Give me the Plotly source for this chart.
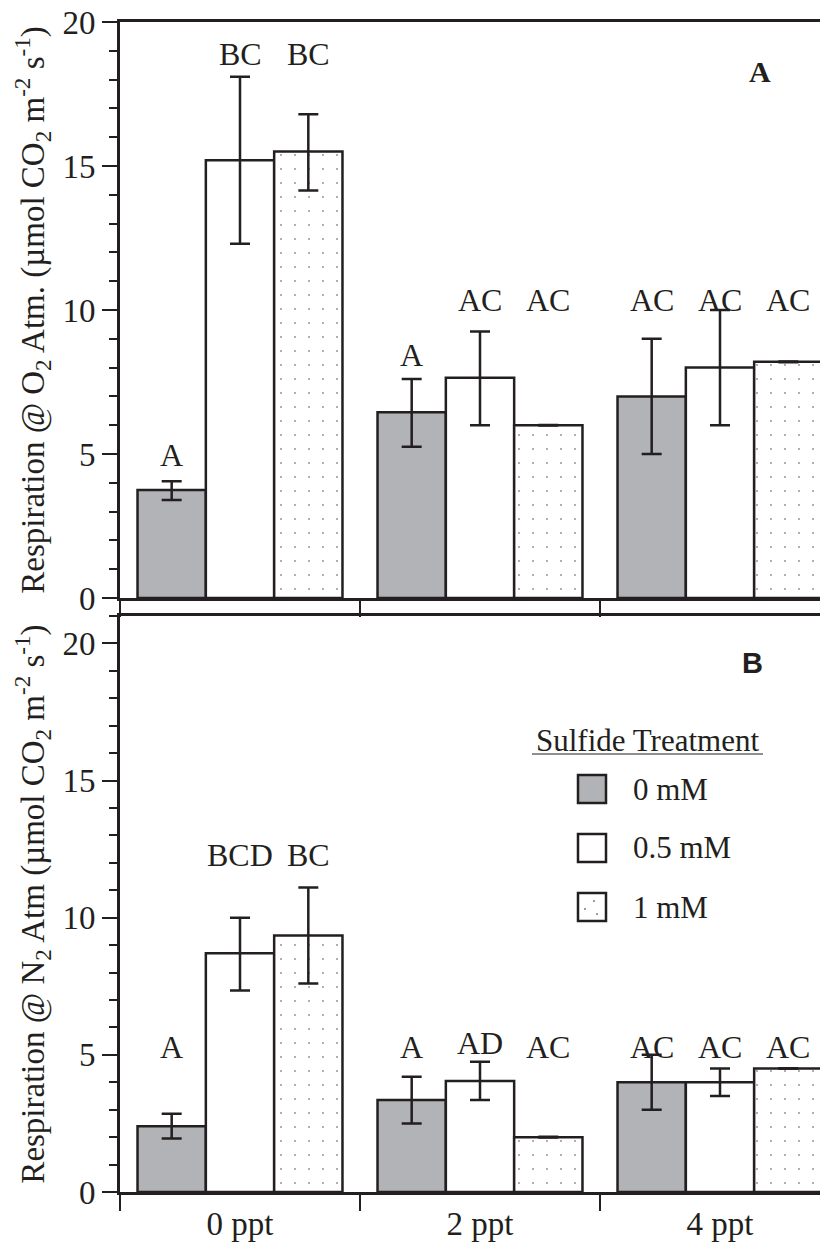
import plotly.graph_objects as go

categories = ["0 ppt", "2 ppt", "4 ppt"]
treatments = ["0 mM", "0.5 mM", "1 mM"]

# Panel A: respiration under O2 atmosphere
o2_mean = [[3.75, 6.45, 7.0], [15.2, 7.65, 8.0], [15.5, 6.0, 8.2]]
o2_err_plus = [[0.3, 1.15, 2.0], [2.9, 1.6, 2.0], [1.3, 0.01, 0.01]]
o2_err_minus = [[0.35, 1.2, 2.0], [2.9, 1.65, 2.0], [1.35, 0.01, 0.01]]
o2_letters = [["A", "A", "AC"], ["BC", "AC", "AC"], ["BC", "AC", "AC"]]
o2_letter_y = [[4.97, 8.45, 10.35], [18.9, 10.35, 10.35], [18.9, 10.35, 10.35]]

# Panel B: respiration under N2 atmosphere
n2_mean = [[2.4, 3.35, 4.0], [8.7, 4.05, 4.0], [9.35, 2.0, 4.5]]
n2_err_plus = [[0.45, 0.85, 1.0], [1.3, 0.7, 0.5], [1.75, 0.01, 0.01]]
n2_err_minus = [[0.45, 0.85, 1.0], [1.35, 0.7, 0.5], [1.75, 0.01, 0.01]]
n2_letters = [["A", "A", "AC"], ["BCD", "AD", "AC"], ["BC", "AC", "AC"]]
n2_letter_y = [[5.3, 5.3, 5.3], [12.3, 5.45, 5.3], [12.3, 5.3, 5.3]]

INK = "#231f20"
GRAY = "#b2b3b6"
SERIF = "Liberation Serif, Times New Roman, serif"
SANS = "Liberation Sans, Arial, sans-serif"

# the page body has an 8px margin, so the figure is offset by 8px
OFF = 8
W, H = 828 - OFF, 1247 - OFF
ML, MT = 120 - OFF, 22 - OFF
PW, PH = 706, 1170
MR = W - ML - PW
MB = H - MT - PH
BAR_PX = 68.3

fills = [GRAY, "white", "white"]
patterns = [None, None, dict(shape=".", size=14, solidity=0.015, fgcolor=INK, bgcolor="white")]

fig = go.Figure()
panels = [
    (o2_mean, o2_err_plus, o2_err_minus, "x", "y"),
    (n2_mean, n2_err_plus, n2_err_minus, "x2", "y2"),
]
for means, ep, em, xa, ya in panels:
    for j in range(3):
        marker = dict(color=fills[j], line=dict(color=INK, width=2.5))
        if patterns[j]:
            marker["pattern"] = patterns[j]
        fig.add_trace(go.Bar(
            x=categories, y=means[j], name=treatments[j], xaxis=xa, yaxis=ya,
            marker=marker, showlegend=False,
            error_y=dict(type="data", symmetric=False, array=ep[j], arrayminus=em[j],
                         color=INK, thickness=2.5, width=10),
        ))

annotations = []
for letters, ly, xa, ya in [(o2_letters, o2_letter_y, "x", "y"), (n2_letters, n2_letter_y, "x2", "y2")]:
    for j in range(3):
        for i, cat in enumerate(categories):
            annotations.append(dict(
                x=cat, y=ly[j][i], xref=xa, yref=ya, text=letters[j][i],
                showarrow=False, xshift=(j - 1) * BAR_PX, xanchor="center", yanchor="middle",
                font=dict(family=SERIF, size=32, color=INK)))

def px_x(p):
    # page pixel -> paper fraction
    return (p - OFF - ML) / PW

def px_y(p):
    return (H - MB - (p - OFF)) / PH

# panel letters
annotations.append(dict(x=px_x(760), y=px_y(72), xref="paper", yref="paper", text="<b>A</b>",
                        showarrow=False, xanchor="center", yanchor="middle",
                        font=dict(family=SERIF, size=30, color=INK)))
annotations.append(dict(x=px_x(752), y=px_y(663), xref="paper", yref="paper", text="<b>B</b>",
                        showarrow=False, xanchor="center", yanchor="middle",
                        font=dict(family=SANS, size=29, color=INK)))

# custom legend
annotations.append(dict(x=px_x(647), y=px_y(740), xref="paper", yref="paper",
                        text="Sulfide Treatment", showarrow=False,
                        xanchor="center", yanchor="middle",
                        font=dict(family=SERIF, size=31, color=INK)))
shapes = [dict(type="line", xref="paper", yref="paper", x0=px_x(532), x1=px_x(763),
               y0=px_y(754), y1=px_y(754), line=dict(color=INK, width=1.2))]
leg_y = [789, 848, 907]
for j in range(3):
    cy = leg_y[j]
    shapes.append(dict(type="rect", xref="paper", yref="paper",
                       x0=px_x(578), x1=px_x(606), y0=px_y(cy + 14), y1=px_y(cy - 14),
                       fillcolor=fills[j], line=dict(color=INK, width=2.5)))
    annotations.append(dict(x=px_x(631), y=px_y(cy), xref="paper", yref="paper",
                            text=treatments[j], showarrow=False, xanchor="left", yanchor="middle",
                            font=dict(family=SERIF, size=31, color=INK)))
for dx, dy in [(-7, 2), (2, -6), (5, 7)]:
    shapes.append(dict(type="circle", xref="paper", yref="paper",
                       x0=px_x(592 + dx - 0.8), x1=px_x(592 + dx + 0.8),
                       y0=px_y(leg_y[2] + dy + 0.8), y1=px_y(leg_y[2] + dy - 0.8),
                       fillcolor=INK, line=dict(width=0)))

top_dom = [(1192 - 598) / PH, 1.0]
bot_dom = [0.0, (1192 - 616) / PH]
xr = [-0.5, PW / 240 - 0.5]

xcommon = dict(type="category", categoryorder="array", categoryarray=categories,
               range=xr, showline=True, linecolor=INK, linewidth=3, mirror=True,
               ticks="outside", tickson="boundaries", ticklen=16, tickwidth=1.5,
               tickcolor=INK, showgrid=False, zeroline=False, automargin=False,
               ticklabeloverflow="allow",
               tickfont=dict(family=SERIF, size=33, color=INK))
ycommon = dict(showline=True, linecolor=INK, linewidth=3, ticks="outside", ticklen=15,
               tickwidth=2, tickcolor=INK, dtick=5, tick0=0, showgrid=False, zeroline=False,
               automargin=False, ticklabeloverflow="allow",
               minor=dict(ticks="outside", ticklen=8, tickwidth=1.5, tickcolor=INK, dtick=1,
                          showgrid=False),
               tickfont=dict(family=SERIF, size=33, color=INK),
               title=dict(font=dict(family=SERIF, size=33, color=INK), standoff=8))

fig.update_layout(
    width=W, height=H,
    margin=dict(l=ML, r=MR, t=MT, b=MB),
    paper_bgcolor="white", plot_bgcolor="white",
    barmode="group", bargap=0.146, bargroupgap=0,
    xaxis=dict(xcommon, domain=[0, 1], anchor="y", showticklabels=False),
    xaxis2=dict(xcommon, domain=[0, 1], anchor="y2"),
    yaxis=dict(ycommon, domain=top_dom, anchor="x", range=[0, 20],
               title=dict(ycommon["title"], text="Respiration @ O<sub>2</sub> Atm. (µmol CO<sub>2</sub> m<sup>-2</sup> s<sup>-1</sup>)")),
    yaxis2=dict(ycommon, domain=bot_dom, anchor="x2", range=[0, 21],
                title=dict(ycommon["title"], text="Respiration @ N<sub>2</sub> Atm (µmol CO<sub>2</sub> m<sup>-2</sup> s<sup>-1</sup>)")),
    annotations=annotations, shapes=shapes,
)

fig.write_html("out.html")
